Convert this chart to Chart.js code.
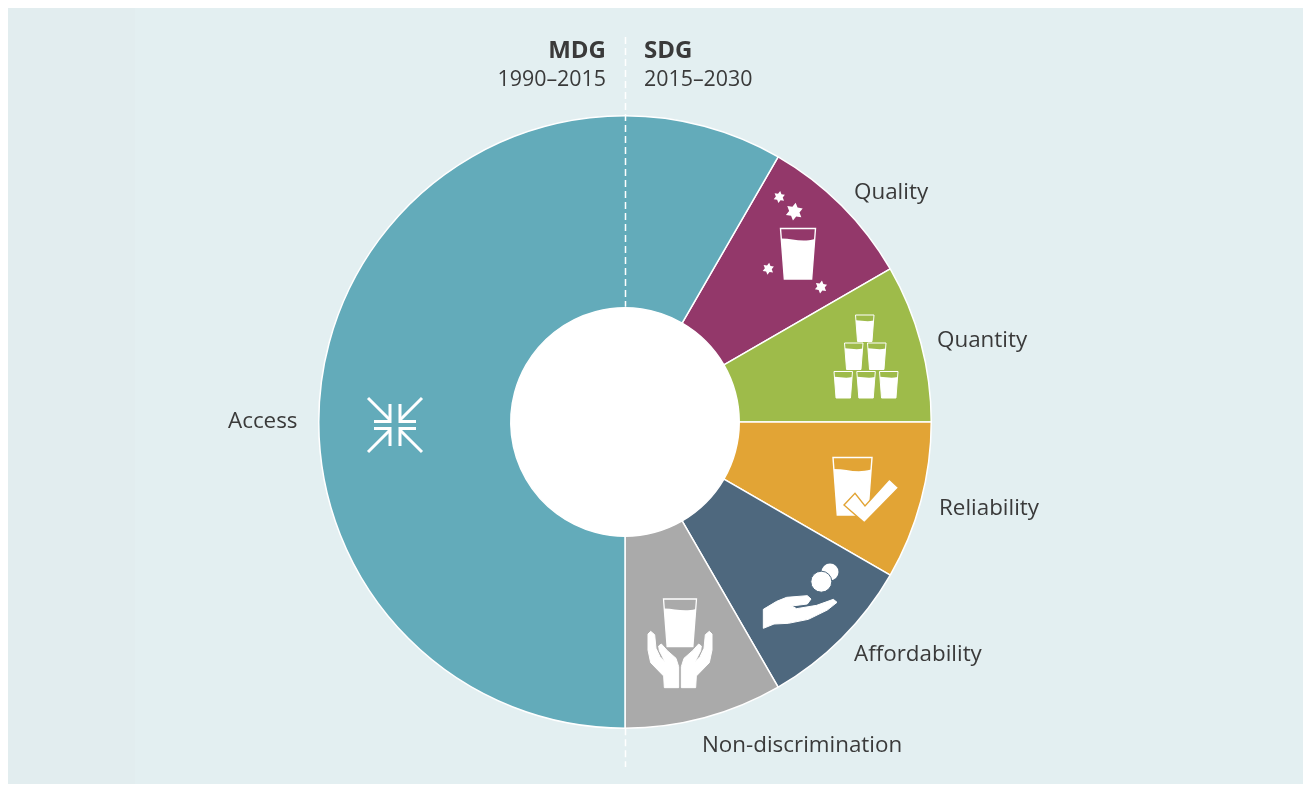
<!DOCTYPE html>
<html>
<head>
<meta charset="utf-8">
<title>MDG and SDG water targets</title>
<style>
  html, body { margin: 0; padding: 0; background: #fff; overflow: hidden; }
  #panel { position: absolute; left: 8px; top: 8px; width: 1295px; height: 776px;
    background: linear-gradient(to right, #e2edef 0, #e2edef 127px, #e3eff1 127px); }
  #chart { position: absolute; left: 0; top: 0; }
</style>
</head>
<body>
<div id="panel"></div>
<canvas id="chart" width="1311" height="785"></canvas>
<script src="https://cdn.jsdelivr.net/npm/chart.js@4"></script>
<script>
// Data, clockwise from the Quality slice (degrees of the ring)
const categories = ['Quality', 'Quantity', 'Reliability', 'Affordability', 'Non-discrimination', 'Access'];
const shares = [30, 30, 30, 30, 30, 210];
const colors = ['#93386a', '#9ebb4a', '#e2a435', '#4e687e', '#aaaaaa', '#63abba'];
const periods = ['MDG', 'SDG'];
const periodYears = ['1990–2015', '2015–2030'];

const ink = '#3a3a3a';
const font = '"Open Sans", sans-serif';

// Slice labels: text is left aligned
const labelPlaces = {
  'Quality': [854, 193],
  'Quantity': [937, 341],
  'Reliability': [939, 509],
  'Affordability': [854, 655],
  'Non-discrimination': [702, 746],
  'Access': [228, 422]
};

function star(ctx, x, y, r) {
  ctx.beginPath();
  for (let i = 0; i < 12; i++) {
    const a = i * Math.PI / 6 + 0.15;
    const d = i % 2 ? r * 0.58 : r;
    ctx.lineTo(x + Math.sin(a) * d, y - Math.cos(a) * d);
  }
  ctx.closePath();
  ctx.fill();
}

// Glass with rim outline and water. x,y is the top left corner
function glass(ctx, x, y, w, h, line) {
  const inset = w * 0.11;
  const level = h * 0.2;
  ctx.lineWidth = line;
  ctx.strokeStyle = '#fff';
  ctx.fillStyle = '#fff';
  ctx.beginPath();
  ctx.moveTo(x, y);
  ctx.lineTo(x + w, y);
  ctx.lineTo(x + w - inset, y + h);
  ctx.lineTo(x + inset, y + h);
  ctx.closePath();
  ctx.stroke();
  ctx.beginPath();
  ctx.moveTo(x + inset * 0.2, y + level);
  ctx.bezierCurveTo(x + w * 0.35, y + level * 1.0, x + w * 0.6, y + level * 1.4, x + w - inset * 0.2, y + level * 1.05);
  ctx.lineTo(x + w - inset, y + h);
  ctx.lineTo(x + inset, y + h);
  ctx.closePath();
  ctx.fill();
}

// Polygon given in coordinates of a 3x crop starting at ox,oy
function poly(ctx, ox, oy, pts) {
  ctx.beginPath();
  pts.forEach(p => ctx.lineTo(ox + p[0] / 3, oy + p[1] / 3));
  ctx.closePath();
}

function drawAccessIcon(ctx, x, y) {
  ctx.strokeStyle = '#fff';
  ctx.lineWidth = 3;
  [[-1, -1], [1, -1], [-1, 1], [1, 1]].forEach(s => {
    ctx.beginPath();
    ctx.moveTo(x + s[0] * 27, y + s[1] * 27);
    ctx.lineTo(x + s[0] * 5, y + s[1] * 5);
    ctx.stroke();
    ctx.beginPath();
    ctx.moveTo(x + s[0] * 5, y + s[1] * 21);
    ctx.lineTo(x + s[0] * 5, y + s[1] * 3.5);
    ctx.lineTo(x + s[0] * 21, y + s[1] * 3.5);
    ctx.stroke();
  });
}

function drawHands(ctx) {
  const left = [[84, 582], [92, 574], [104, 584], [108, 625], [120, 650], [135, 665], [118, 632], [116, 618], [124, 612],
    [142, 632], [168, 655], [176, 680], [176, 743], [133, 743], [131, 708], [92, 668], [84, 630]];
  ctx.fillStyle = '#fff';
  ctx.strokeStyle = '#fff';
  ctx.lineWidth = 1;
  poly(ctx, 620, 440, left);
  ctx.fill();
  ctx.stroke();
  poly(ctx, 620, 440, left.map(p => [360 - p[0], p[1]]));
  ctx.fill();
  ctx.stroke();
}

function drawHand(ctx) {
  ctx.fillStyle = '#fff';
  ctx.strokeStyle = '#fff';
  ctx.lineWidth = 1;
  poly(ctx, 620, 440, [[430, 508], [470, 484], [500, 472], [562, 467], [573, 477], [562, 492], [515, 498], [530, 506],
    [590, 496], [640, 478], [651, 487], [622, 510], [565, 538], [505, 550], [462, 552], [430, 565]]);
  ctx.fill();
  ctx.stroke();
  ctx.beginPath();
  ctx.arc(830, 572, 8.5, 0, Math.PI * 2);
  ctx.fill();
  ctx.beginPath();
  ctx.arc(821.3, 581.7, 10.5, 0, Math.PI * 2);
  ctx.fill();
  ctx.strokeStyle = colors[3];
  ctx.lineWidth = 1;
  ctx.stroke();
}

function drawIcons(ctx) {
  // Quality
  glass(ctx, 780.5, 228.5, 35, 50.5, 1.4);
  ctx.fillStyle = '#fff';
  star(ctx, 779.3, 197, 6);
  star(ctx, 794.3, 211.7, 9);
  star(ctx, 768.3, 268.7, 6);
  star(ctx, 821, 287, 6.5);

  // Quantity
  [[855.5, 315], [844.5, 343], [867.5, 343], [834, 371.5], [856.8, 371.5], [879.5, 371.5]].forEach(p => {
    glass(ctx, p[0], p[1], 18.5, 26.5, 1);
  });

  // Reliability
  glass(ctx, 833, 457.5, 39, 57.5, 1.4);
  ctx.fillStyle = '#fff';
  ctx.strokeStyle = colors[2];
  ctx.lineWidth = 1.4;
  poly(ctx, 620, 440, [[672, 195], [705, 160], [735, 198], [808, 117], [836, 143], [733, 248]]);
  ctx.fill();
  ctx.stroke();

  // Affordability
  drawHand(ctx);

  // Non-discrimination
  glass(ctx, 663.5, 599, 33, 47.5, 1.3);
  drawHands(ctx);

  // Access
  drawAccessIcon(ctx, 395, 425);
}

// White hole behind the ring; the page panel would show through otherwise
const holePlugin = {
  id: 'hole',
  beforeDatasetsDraw(chart) {
    const arc = chart.getDatasetMeta(0).data[0];
    const ctx = chart.ctx;
    ctx.save();
    ctx.fillStyle = '#fff';
    ctx.beginPath();
    ctx.arc(arc.x, arc.y, arc.innerRadius + 1, 0, Math.PI * 2);
    ctx.fill();
    ctx.restore();
  }
};

// Dashed divider, labels and icons go on top of the ring
const overlayPlugin = {
  id: 'overlay',
  afterDatasetsDraw(chart) {
    const ctx = chart.ctx;
    const arc = chart.getDatasetMeta(0).data[0];
    const cx = Math.round(arc.x) + 0.5;
    const cy = arc.y;

    ctx.save();
    ctx.strokeStyle = '#fff';
    ctx.lineWidth = 1.5;
    ctx.setLineDash([7, 4]);
    ctx.beginPath();
    ctx.moveTo(cx, 37);
    ctx.lineTo(cx, cy - arc.innerRadius - 1);
    ctx.moveTo(cx, cy + arc.outerRadius);
    ctx.lineTo(cx, 767);
    ctx.stroke();
    ctx.setLineDash([]);

    drawIcons(ctx);

    ctx.fillStyle = ink;
    ctx.textBaseline = 'middle';
    ctx.textAlign = 'left';
    ctx.font = '500 22.4px ' + font;
    categories.forEach(name => {
      const p = labelPlaces[name];
      ctx.fillText(name, p[0], p[1]);
    });

    // Period headings either side of the divider
    ctx.textAlign = 'right';
    ctx.font = 'bold 24px ' + font;
    ctx.fillText(periods[0], 606, 51);
    ctx.font = '500 21.4px ' + font;
    ctx.fillText(periodYears[0], 606, 80);
    ctx.textAlign = 'left';
    ctx.font = 'bold 24px ' + font;
    ctx.fillText(periods[1], 644, 51);
    ctx.font = '500 21.4px ' + font;
    ctx.fillText(periodYears[1], 644, 80);
    ctx.restore();
  }
};

new Chart(document.getElementById('chart'), {
  type: 'doughnut',
  data: {
    labels: categories,
    datasets: [{
      data: shares,
      backgroundColor: colors,
      borderColor: '#fff',
      borderWidth: 1.5,
      hoverOffset: 0
    }]
  },
  options: {
    responsive: false,
    animation: false,
    rotation: 30,
    cutout: '37.3%',
    layout: { padding: { left: 318, right: 379, top: 115, bottom: 56 } },
    plugins: {
      legend: { display: false },
      tooltip: { enabled: false }
    }
  },
  plugins: [holePlugin, overlayPlugin]
});
</script>
</body>
</html>
